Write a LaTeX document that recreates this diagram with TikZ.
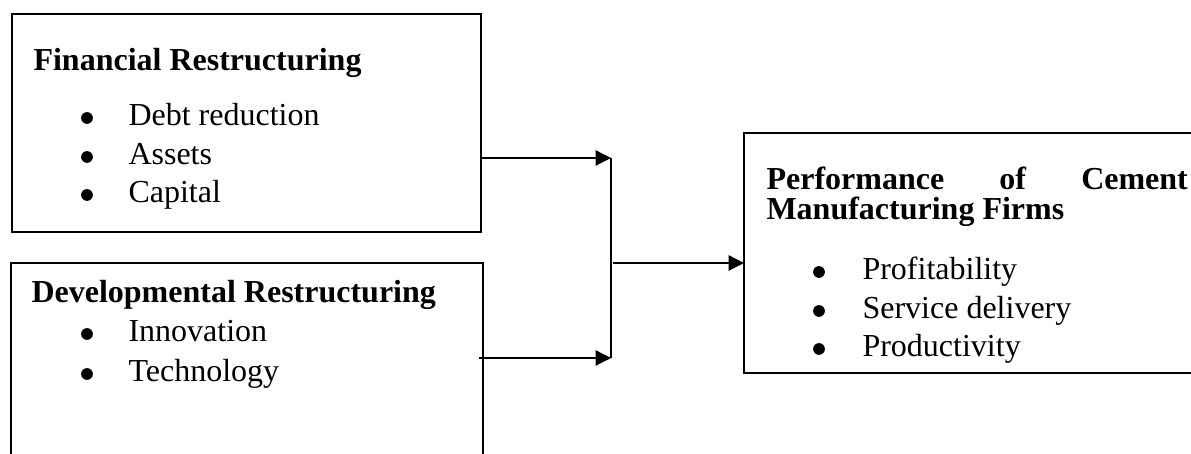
\documentclass[tikz,border=0pt]{standalone}
\usepackage{fontspec}
\setmainfont{Liberation Serif}
\usetikzlibrary{arrows.meta}

\tikzset{
  boxline/.style = {line width = 0.8pt},
  link/.style = {line width = 0.45pt, -{Triangle[length = 5.8pt, width = 5.8pt]}},
  head/.style = {anchor = base west, inner sep = 0pt, font = \fontsize{12}{14}\selectfont\bfseries},
  item/.style = {anchor = base west, inner sep = 0pt, font = \fontsize{12}{14}\selectfont},
  dot/.style = {circle, fill, inner sep = 0pt, minimum size = 4.4pt},
}

\begin{document}
\begin{tikzpicture}[x = 0.375pt, y = -0.375pt]
                \path[clip] (0,0) rectangle (1191,454);
                % boxes
                \coordinate(A) at (12,14);
                \coordinate(B) at (481,232);
                \coordinate(C) at (11,263);
                \coordinate(D) at (483,470);
                \coordinate(E) at (744,133);
                \coordinate(F) at (1200,373);
                \path[draw, boxline] (A) rectangle (B);
                \path[draw, boxline] (C) rectangle (D);
                \path[draw, boxline] (E) rectangle (F);
                % financial
                \node[head] (fin) at (33,71) {Financial Restructuring};
                \foreach \txt/\yy in {Debt reduction/126, Assets/165, Capital/203} {
                    \node[dot] (finb-\yy) at (87,\yy-8) {};
                    \node[item] (fini-\yy) at (128,\yy) {\txt};
                }
                % developmental
                \node[head] (dev) at (31,303) {Developmental Restructuring};
                \foreach \txt/\yy in {Innovation/342, Technology/382} {
                    \node[dot] (devb-\yy) at (87,\yy-8) {};
                    \node[item] (devi-\yy) at (128,\yy) {\txt};
                }
                % performance
                \node[head] (perf) at (766,190) {\hbox to 158pt{Performance\hfill of\hfill Cement}};
                \node[head] (manu) at (766,220) {Manufacturing Firms};
                \foreach \txt/\yy in {Profitability/280, Service delivery/319, Productivity/357} {
                    \node[dot] (perfb-\yy) at (819,\yy-8) {};
                    \node[item] (perfi-\yy) at (862,\yy) {\txt};
                }
                % connectors
                \coordinate(fa) at (481,158);
                \coordinate(ja) at (611,158);
                \coordinate(da) at (479,358);
                \coordinate(jb) at (611,358);
                \coordinate(jm) at (613,263);
                \coordinate(pm) at (744,263);
                \path[draw, link] (fa) -- (ja);
                \path[draw, link] (da) -- (jb);
                \path[draw, line width = 0.45pt] (ja) -- (jb);
                \path[draw, link] (jm) -- (pm);
            \end{tikzpicture}
\end{document}
